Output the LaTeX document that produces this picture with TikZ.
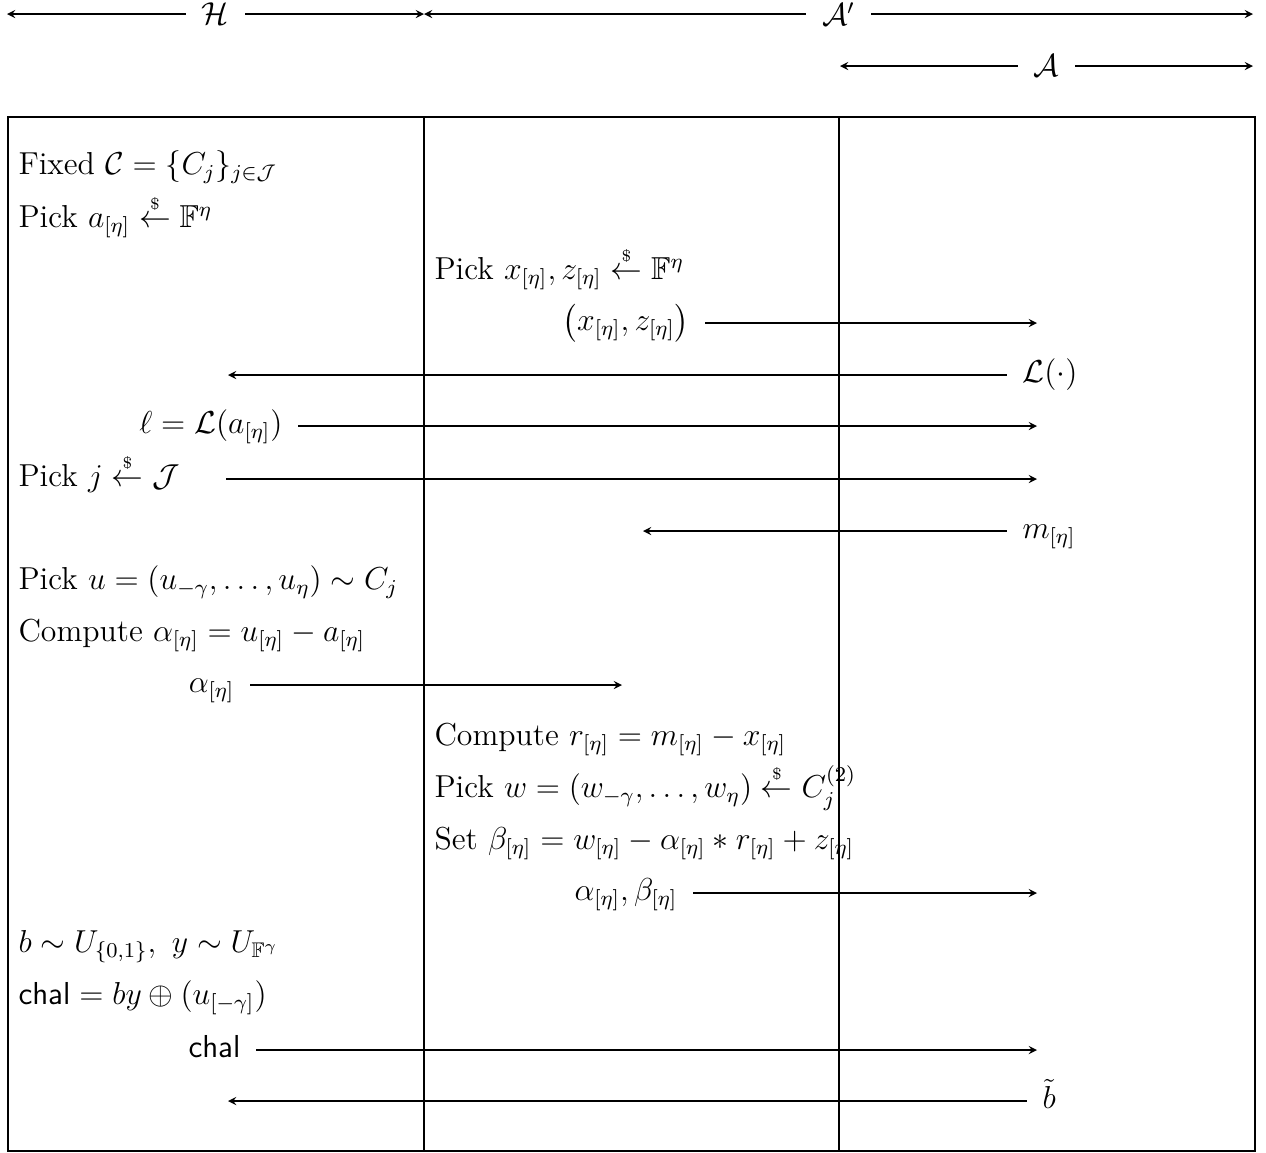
\documentclass[tikz,border=0pt,12pt]{standalone}
\usepackage{amsmath, amssymb}
\usepackage{tikz}
\usetikzlibrary{calc, positioning}

\newcommand{\smp}{\mathrel{\overset{\scriptscriptstyle\$}{\leftarrow}}}

\begin{document}
\begin{tikzpicture}[>=stealth, x=0.378pt, y=-0.378pt,
    txt/.style={inner sep=0pt, text height=9.6pt, text depth=3.6pt},
    party/.style={fill=white, inner xsep=6pt, inner ysep=0pt},
    msg/.style={->, shorten <=5.7pt}]
    \useasboundingbox (0,0) rectangle (1266,1152);

    % parties on top
    \coordinate (hl) at (7,14);
    \coordinate (hr) at (424,14);
    \coordinate (al) at (424,14);
    \coordinate (ar) at (1253,14);
    \coordinate (bl) at (840,66);
    \coordinate (br) at (1253,66);
    \draw[<->] (hl) -- (hr) node[midway, party] {$\mathcal{H}$};
    \draw[<->] (al) -- (ar) node[midway, party] {$\mathcal{A}'$};
    \draw[<->] (bl) -- (br) node[midway, party] {$\mathcal{A}$};

    % frame and columns
    \draw (8,117) rectangle (1255,1151);
    \draw (424,117) -- (424,1151);
    \draw (839,117) -- (839,1151);

    % H
    \node[txt, anchor=west] (fix) at (18,167) {Fixed $\mathcal{C} = \{C_j\}_{j\in\mathcal{J}}$};
    \node[txt, anchor=west] (pa) at (18,220) {Pick $a_{[\eta]} \smp \mathbb{F}^\eta$};
    % A'
    \node[txt, anchor=west] (pxz) at (434,272) {Pick $x_{[\eta]}, z_{[\eta]} \smp \mathbb{F}^\eta$};
    \node[txt, anchor=east] (xz) at (690,323) {$\bigl(x_{[\eta]}, z_{[\eta]}\bigr)$};
    \coordinate (xze) at (1037,323);
    \draw[msg] (xz) -- (xze);
    % A
    \node[txt, anchor=west] (lf) at (1022,375) {$\mathcal{L}(\cdot)$};
    \coordinate (lfe) at (228,375);
    \draw[msg] (lf) -- (lfe);
    \node[txt, anchor=east] (ell) at (283,426) {$\ell = \mathcal{L}(a_{[\eta]})$};
    \coordinate (elle) at (1037,426);
    \draw[msg] (ell) -- (elle);
    \node[txt, anchor=west] (pj) at (18,479) {Pick $j \smp \mathcal{J}$};
    \coordinate (pjs) at (226,479);
    \coordinate (pje) at (1037,479);
    \draw[->] (pjs) -- (pje);
    \node[txt, anchor=west] (mm) at (1022,531) {$m_{[\eta]}$};
    \coordinate (mme) at (643,531);
    \draw[msg] (mm) -- (mme);

    \node[txt, anchor=west] (pu) at (18,582) {Pick $u = (u_{-\gamma},\dots,u_\eta) \sim C_j$};
    \node[txt, anchor=west] (ca) at (18,634) {Compute $\alpha_{[\eta]} = u_{[\eta]} - a_{[\eta]}$};
    \node[txt, anchor=east] (aa) at (235,685) {$\alpha_{[\eta]}$};
    \coordinate (aae) at (622,685);
    \draw[msg] (aa) -- (aae);

    \node[txt, anchor=west] (cr) at (434,738) {Compute $r_{[\eta]} = m_{[\eta]} - x_{[\eta]}$};
    \node[txt, anchor=west] (pw) at (434,790) {Pick $w = (w_{-\gamma},\dots,w_\eta) \smp C_j^{(2)}$};
    \node[txt, anchor=west] (sb) at (434,842) {Set $\beta_{[\eta]} = w_{[\eta]} - \alpha_{[\eta]} * r_{[\eta]} + z_{[\eta]}$};
    \node[txt, anchor=east] (ab) at (678,893) {$\alpha_{[\eta]}, \beta_{[\eta]}$};
    \coordinate (abe) at (1037,893);
    \draw[msg] (ab) -- (abe);

    % challenge
    \node[txt, anchor=west] (by) at (18,945) {$b \sim U_{\{0,1\}},\ y \sim U_{\mathbb{F}^\gamma}$};
    \node[txt, anchor=west] (ch) at (18,997) {$\mathsf{chal} = by \oplus (u_{[-\gamma]})$};
    \node[txt, anchor=east] (cc) at (241,1050) {$\mathsf{chal}$};
    \coordinate (cce) at (1037,1050);
    \draw[msg] (cc) -- (cce);
    \node[txt, anchor=west] (bt) at (1042,1101) {$\tilde{b}$};
    \coordinate (bte) at (228,1101);
    \draw[msg] (bt) -- (bte);
\end{tikzpicture}
\end{document}
